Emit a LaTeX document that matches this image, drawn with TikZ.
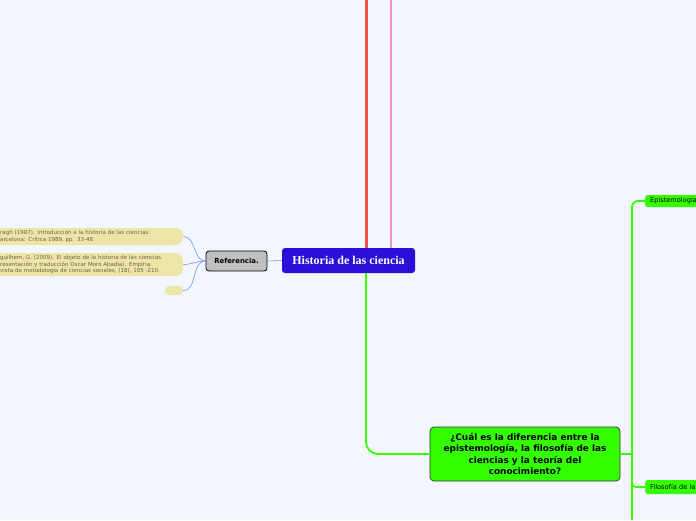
\documentclass[tikz,border=0pt]{standalone}
\usepackage{fontspec}
\setmainfont{Liberation Serif}
\setsansfont{DejaVu Sans}
\definecolor{mmbg}{RGB}{243,246,254}
\definecolor{mmred}{RGB}{240,80,70}
\definecolor{mmpink}{RGB}{245,145,195}
\definecolor{mmblue}{RGB}{43,15,217}
\definecolor{mmline}{RGB}{110,150,240}
\definecolor{mmgray}{RGB}{192,192,192}
\definecolor{mmsand}{RGB}{237,229,168}
\definecolor{mmolive}{RGB}{105,100,70}
\definecolor{mmgreen}{RGB}{51,255,0}
\usetikzlibrary{positioning, calc}

\begin{document}
\begin{tikzpicture}[x=1pt, y=-1pt,
  topic/.style={fill=mmblue, text=white, rounded corners=3pt, inner sep=0pt,
    font=\rmfamily\bfseries\fontsize{12}{14}\selectfont},
  refbox/.style={fill=mmgray, draw=black, line width=0.8pt, rounded corners=3pt,
    inner sep=0pt, font=\sffamily\bfseries\fontsize{6.9}{8}\selectfont},
  leaf/.style={fill=mmsand, rounded corners=8pt, inner ysep=0pt, inner xsep=12pt,
    anchor=west, align=left, text=mmolive, font=\sffamily\fontsize{5.5}{6.6}\selectfont},
  quest/.style={fill=mmgreen, draw=black!80, line width=0.7pt, rounded corners=4pt,
    inner sep=0pt, align=center, font=\sffamily\bfseries\fontsize{8.9}{11.3}\selectfont},
  sub/.style={fill=mmgreen, rounded corners=2.5pt, inner ysep=0pt, inner xsep=5pt,
    anchor=west, align=left, font=\sffamily\fontsize{6.6}{7}\selectfont},
  refline/.style={mmline, line width=0.6pt},
  greenline/.style={mmgreen, line width=1.8pt}]
  \useasboundingbox[fill=mmbg] (0,0) rectangle (696,520);

  % --- Main topic and its upward branches ---
  \node[topic, minimum width=133, minimum height=25] (main) at (348.5,260.5) {Historia de las ciencia};
  \coordinate (redtop) at (366,0);
  \coordinate (pinktop) at (391,0);
  \draw[mmred, line width=3pt] ($(main.north)+(17.5,0)$) -- (redtop);
  \draw[mmpink, line width=2.2pt] ($(main.north)+(42.5,0)$) -- (pinktop);

  % --- Referencia and its leaves ---
  \node[refbox, minimum width=61, minimum height=20] (ref) at (236.5,261) {Referencia.};
  \draw[refline] (main.west) -- (ref.east);
  \node[leaf, text width=171, minimum height=17] (leafA) at (-12,236.5)
    {ragh (1987). Introducción a la historia de las ciencias.\\
     arcelona: Crítica 1989, pp. 33-48};
  \node[leaf, text width=171, minimum height=23] (leafB) at (-12,264.5)
    {guilhem, G. (2009). El objeto de la historia de las ciencias.\\
     resentación y traducción Oscar Moro Abadía). Empiria.\\
     vista de metodología de ciencias sociales, (18), 105 -210.};
  \node[fill=mmsand, rounded corners=4.5pt, minimum width=18, minimum height=9, inner sep=0pt]
    (leafC) at (174,290.5) {};
  \foreach \leafname in {leafA, leafB, leafC}
    \draw[refline] (ref.west) to[out=180, in=0] (\leafname.east);

  % --- Question branch ---
  \node[quest, minimum width=190, minimum height=54] (q) at (525,454)
    {¿Cuál es la diferencia entre la\\ epistemología, la filosofía de las\\
     ciencias y la teoría del\\ conocimiento?};
  \draw[greenline, rounded corners=12pt] ($(main.south)+(17.5,0)$) |- (q.west);

  % Sub topics on the right
  \node[sub, text width=60, minimum height=12] (epi) at (645,201) {Epistemologia};
  \node[sub, text width=60, minimum height=14] (filo) at (645,487) {Filosofía de la};
  \coordinate (fork) at (632,454);
  \coordinate (trunkend) at (632,520);
  \draw[greenline] (q.east) -- (fork) -- (trunkend);
  \draw[greenline, rounded corners=6pt] (fork) |- (epi.west);
  \draw[greenline, rounded corners=4pt] (fork) |- (filo.west);
\end{tikzpicture}
\end{document}
